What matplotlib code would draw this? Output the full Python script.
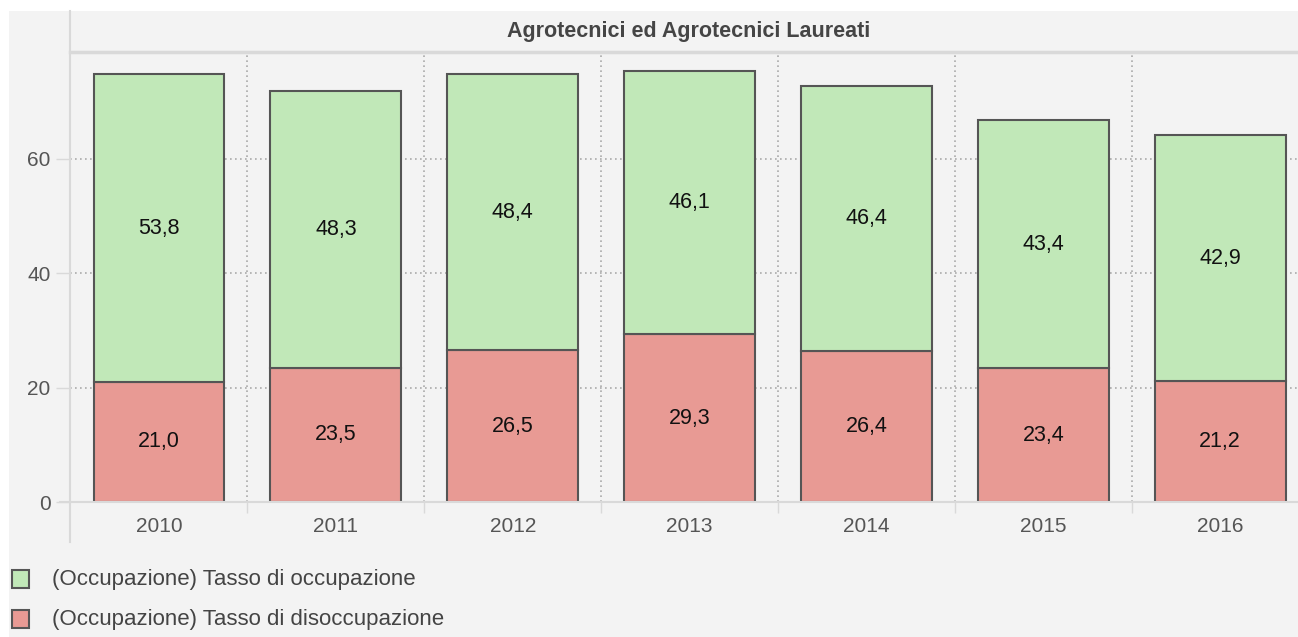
import matplotlib.pyplot as plt
from matplotlib.patches import Rectangle
from matplotlib.lines import Line2D

years = ['2010', '2011', '2012', '2013', '2014', '2015', '2016']
disoccupazione = [21.0, 23.5, 26.5, 29.3, 26.4, 23.4, 21.2]
occupazione = [53.8, 48.3, 48.4, 46.1, 46.4, 43.4, 42.9]
series_names = ['(Occupazione) Tasso di occupazione', '(Occupazione) Tasso di disoccupazione']
title = 'Agrotecnici ed Agrotecnici Laureati'

green = '#c1e8b8'
red = '#e89a94'
bg = '#f3f3f3'
axis_col = '#d9d9d9'

W, H = 1298, 637
plt.rcParams['font.family'] = ['Liberation Sans', 'DejaVu Sans']

fig = plt.figure(figsize=(W / 100, H / 100), dpi=100)
fig.patch.set_facecolor('white')


def fx(px):
    return px / W


def fy(py):
    return 1 - py / H


# grey panel
fig.patches.append(Rectangle((fx(9), 0), 1 - fx(9), fy(11), transform=fig.transFigure,
                             facecolor=bg, edgecolor='none', zorder=-10))

ax = fig.add_axes([fx(70), fy(502), 1 - fx(70), fy(52) - fy(502)])
ax.set_facecolor('none')

x = range(len(years))
ax.bar(x, disoccupazione, width=0.74, color=red, edgecolor='#555555', linewidth=1.5, zorder=3)
ax.bar(x, occupazione, width=0.74, bottom=disoccupazione, color=green, edgecolor='#555555',
       linewidth=1.5, zorder=3)

for i in x:
    ax.text(i, disoccupazione[i] / 2, f'{disoccupazione[i]:.1f}'.replace('.', ','),
            ha='center', va='center', fontsize=15.5, color='#111111', zorder=4)
    ax.text(i, disoccupazione[i] + occupazione[i] / 2, f'{occupazione[i]:.1f}'.replace('.', ','),
            ha='center', va='center', fontsize=15.5, color='#111111', zorder=4)

ax.set_xlim(-0.503, 6.44)
ax.set_ylim(0, 78.7)

# dotted grid
for b in [i + 0.5 for i in range(len(years) - 1)]:
    ax.axvline(b, color='#aaaaaa', linestyle=(0, (1, 2)), linewidth=1.2, zorder=1)
for v in [20, 40, 60]:
    ax.axhline(v, color='#aaaaaa', linestyle=(0, (1, 2)), linewidth=1.2, zorder=1)

for s in ax.spines.values():
    s.set_visible(False)

ax.set_yticks([0, 20, 40, 60])
ax.set_xticks(list(x))
ax.set_xticklabels(years)
ax.set_xticks([i + 0.5 for i in range(len(years) - 1)], minor=True)
ax.tick_params(axis='y', length=10, width=1, color=axis_col, labelsize=15, labelcolor='#555555', pad=4)
ax.tick_params(axis='x', which='major', length=0, labelsize=15, labelcolor='#555555', pad=11)
ax.tick_params(axis='x', which='minor', length=8, width=1, color=axis_col)

# axis lines and header
fig.add_artist(Line2D([fx(60), 1], [fy(502), fy(502)], color=axis_col, linewidth=1.5))
fig.add_artist(Line2D([fx(70), fx(70)], [fy(11), fy(542)], color=axis_col, linewidth=1.5))
fig.add_artist(Line2D([fx(70), 1], [fy(52), fy(52)], color=axis_col, linewidth=2.5))
fig.text(fx(689), fy(31), title, ha='center', va='center', fontsize=15.5,
         fontweight='bold', color='#454545')

# legend
for k, (name, col) in enumerate(zip(series_names, [green, red])):
    yc = 579 + 40 * k
    fig.patches.append(Rectangle((fx(12), fy(yc + 9)), fx(17), fy(0) - fy(18), transform=fig.transFigure,
                                 facecolor=col, edgecolor='#555555', linewidth=1.5))
    fig.text(fx(52), fy(yc), name, ha='left', va='center', fontsize=16, color='#444444')

fig.savefig('out.png', dpi=100)
